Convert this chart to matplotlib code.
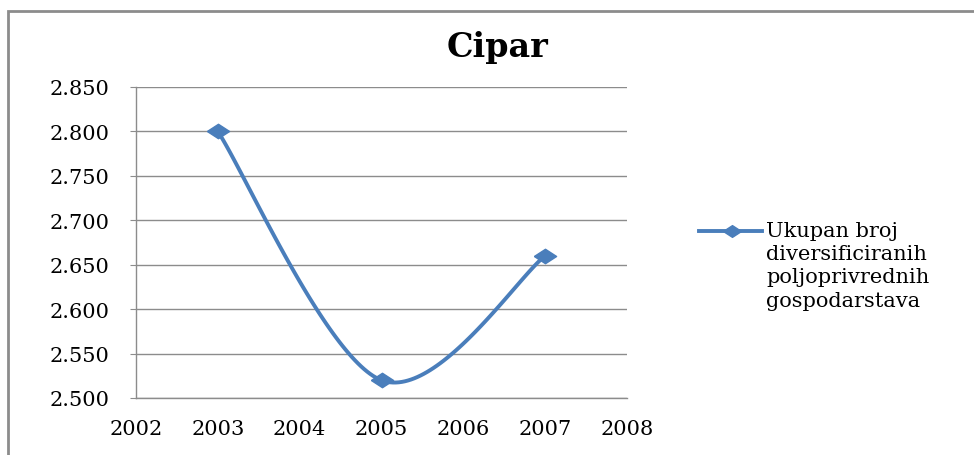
import numpy as np
import matplotlib
matplotlib.use("Agg")
import matplotlib.pyplot as plt
from matplotlib.lines import Line2D
from matplotlib.patches import Rectangle
from matplotlib.ticker import FuncFormatter, MultipleLocator

years = [2003, 2005, 2007]
values = [2800, 2520, 2660]
title = "Cipar"
series_label = "Ukupan broj\ndiversificiranih\npoljoprivrednih\ngospodarstava"
x_ticks = [2002, 2003, 2004, 2005, 2006, 2007, 2008]

color = "#4A7EBB"
plt.rcParams['font.family'] = ['DejaVu Serif']

fig = plt.figure(figsize=(9.74, 4.56), dpi=100)
ax = fig.add_axes([136/974, 1-399/456, (627-136)/974, (399-88)/456])

# Excel-like smoothed line (Catmull-Rom Bezier)
xs = np.array(years, float); ys = np.array(values, float)
px = np.concatenate([[xs[0]], xs, [xs[-1]]])
py = np.concatenate([[ys[0]], ys, [ys[-1]]])
cx, cy = [], []
t = np.linspace(0, 1, 60)
for i in range(1, len(px) - 2):
    p0 = np.array([px[i], py[i]]); p3 = np.array([px[i+1], py[i+1]])
    p1 = p0 + (np.array([px[i+1], py[i+1]]) - np.array([px[i-1], py[i-1]])) / 6
    p2 = p3 - (np.array([px[i+2], py[i+2]]) - np.array([px[i], py[i]])) / 6
    b = ((1-t)**3)[:, None]*p0 + (3*(1-t)**2*t)[:, None]*p1 + (3*(1-t)*t**2)[:, None]*p2 + (t**3)[:, None]*p3
    cx.extend(b[:, 0]); cy.extend(b[:, 1])

diamond = [(-1, 0), (0, 0.65), (1, 0), (0, -0.65), (-1, 0)]
ax.plot(cx, cy, color=color, lw=2.8, solid_capstyle='round', zorder=3)
ax.plot(years, values, linestyle='none', marker=diamond, markersize=16,
        color=color, zorder=4)

ax.set_xlim(2002, 2008)
ax.set_ylim(2500, 2850)
ax.set_xticks(x_ticks)
ax.yaxis.set_major_locator(MultipleLocator(50))
ax.yaxis.set_major_formatter(FuncFormatter(lambda v, p: f"{v/1000:.3f}"))
ax.grid(axis='y', color='#8c8c8c', lw=1.0)
ax.set_axisbelow(True)
for s in ['top', 'right']:
    ax.spines[s].set_visible(False)
for s in ['left', 'bottom']:
    ax.spines[s].set_color('#8c8c8c')
    ax.spines[s].set_linewidth(1.0)
ax.tick_params(axis='y', length=4, color='#8c8c8c', labelsize=15, pad=15)
ax.tick_params(axis='x', length=0, labelsize=15, pad=15)

fig.text(498/974, 1-47/456, title, ha='center', va='center',
         fontsize=24, fontweight='bold')

# legend
ly = 1 - 232/456
fig.add_artist(Line2D([699/974, 762/974], [ly, ly], color=color, lw=2.8,
                      transform=fig.transFigure))
fig.add_artist(Line2D([732/974], [ly], marker=diamond, markersize=13,
                      color=color, linestyle='none', transform=fig.transFigure))
fig.text(766/974, 1-222/456, series_label, ha='left', va='top', fontsize=15,
         linespacing=1.28)

# outer border
fig.add_artist(Rectangle((8/974, -0.05), 1.0, 1-12/456+0.05, fill=False,
                         edgecolor='#8c8c8c', lw=2, transform=fig.transFigure))

fig.savefig("out.png", dpi=100)
